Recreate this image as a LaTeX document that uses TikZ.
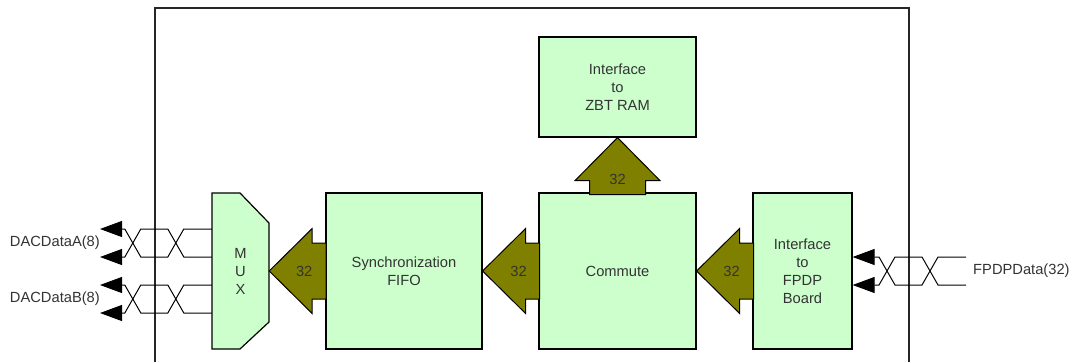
\documentclass[tikz,border=0pt]{standalone}
\usepackage{fontspec}
\setmainfont{Liberation Sans}
\usetikzlibrary{arrows.meta,calc}

\definecolor{blockgreen}{HTML}{CCFFCC}
\definecolor{busolive}{HTML}{808000}
\definecolor{labelgray}{HTML}{333333}

\tikzset{
  block/.style={draw=black, fill=blockgreen, line width=1.2pt, align=center, inner sep=0pt, text=labelgray},
  frame/.style={draw=black!85, line width=1.6pt},
  wire/.style={draw=black, line width=1pt},
  wirehead/.style={-{Triangle[length=22pt,width=16pt]}},
  busfill/.style={fill=busolive, draw=black, line width=1pt},
  buslabel/.style={text=labelgray, inner sep=0pt},
  % wide bus arrow, tip at the origin, body along +x
  pics/busarrow/.style={code={
    \filldraw[busfill] (0,0) -- (43,-42.5) -- (43,-28) -- (57,-28) -- (57,28) -- (43,28) -- (43,42.5) -- cycle;
    \node[buslabel] at (#1,0) {32};
  }},
}

% two crossed wires running to the left; #1 = start of upper wire, #2 = its end
\newcommand{\twistpair}[2]{%
  \draw[wire,wirehead] (#1) -- ++(-28,0) -- ++(-16,28) -- ++(-27,0) -- ++(-16,-28) -- (#2);
  \draw[wire,wirehead] ($(#1)+(0,28)$) -- ++(-28,0) -- ++(-16,-28) -- ++(-27,0) -- ++(-16,28) -- ($(#2)+(0,28)$);
}

\begin{document}
\begin{tikzpicture}[x=1pt, y=-1pt, font=\fontsize{14.7}{18}\selectfont]
  \useasboundingbox (0,0) rectangle (1075,362);

  % board outline
  \draw[frame] (155,362) -- (155,8) -- (909,8) -- (909,362);

  % multiplexer
  \filldraw[block] (212,193) -- (240,193) -- (269,223) -- (269,322) -- (240,349) -- (212,349) -- cycle;
  \node[minimum width=57pt, minimum height=156pt, inner sep=0pt, align=center, text=labelgray] (mux) at (240.5,271) {M\\U\\X};

  \node[block, minimum width=156pt, minimum height=156pt] (fifo) at (404,271) {Synchronization\\FIFO};
  \node[block, minimum width=157pt, minimum height=156pt] (commute) at (617.5,271) {Commute};
  \node[block, minimum width=157pt, minimum height=100pt] (zbt) at (617.5,87) {Interface\\to\\ZBT RAM};
  \node[block, minimum width=99pt, minimum height=156pt] (fpdp) at (802.5,271) {Interface\\to\\FPDP\\Board};

  % 32 bit buses
  \pic at (mux.east) {busarrow=35};
  \pic at (fifo.east) {busarrow=36};
  \pic at (commute.east) {busarrow=35};
  \pic[rotate=-90] at (zbt.south) {busarrow=42};

  % external signals
  \coordinate (dacA) at (100,229);
  \coordinate (dacB) at (100,285);
  \coordinate (fpdpin) at (966,257);
  \twistpair{mux.west |- dacA}{dacA}
  \twistpair{mux.west |- dacB}{dacB}
  \twistpair{fpdpin}{fpdp.east |- fpdpin}

  \node[anchor=east, inner sep=0pt, text=labelgray] (dacAlabel) at (100,243) {DACDataA(8)};
  \node[anchor=east, inner sep=0pt, text=labelgray] (dacBlabel) at (100,299) {DACDataB(8)};
  \node[anchor=west, inner sep=0pt, text=labelgray] (fpdplabel) at (973,271) {FPDPData(32)};
\end{tikzpicture}
\end{document}
